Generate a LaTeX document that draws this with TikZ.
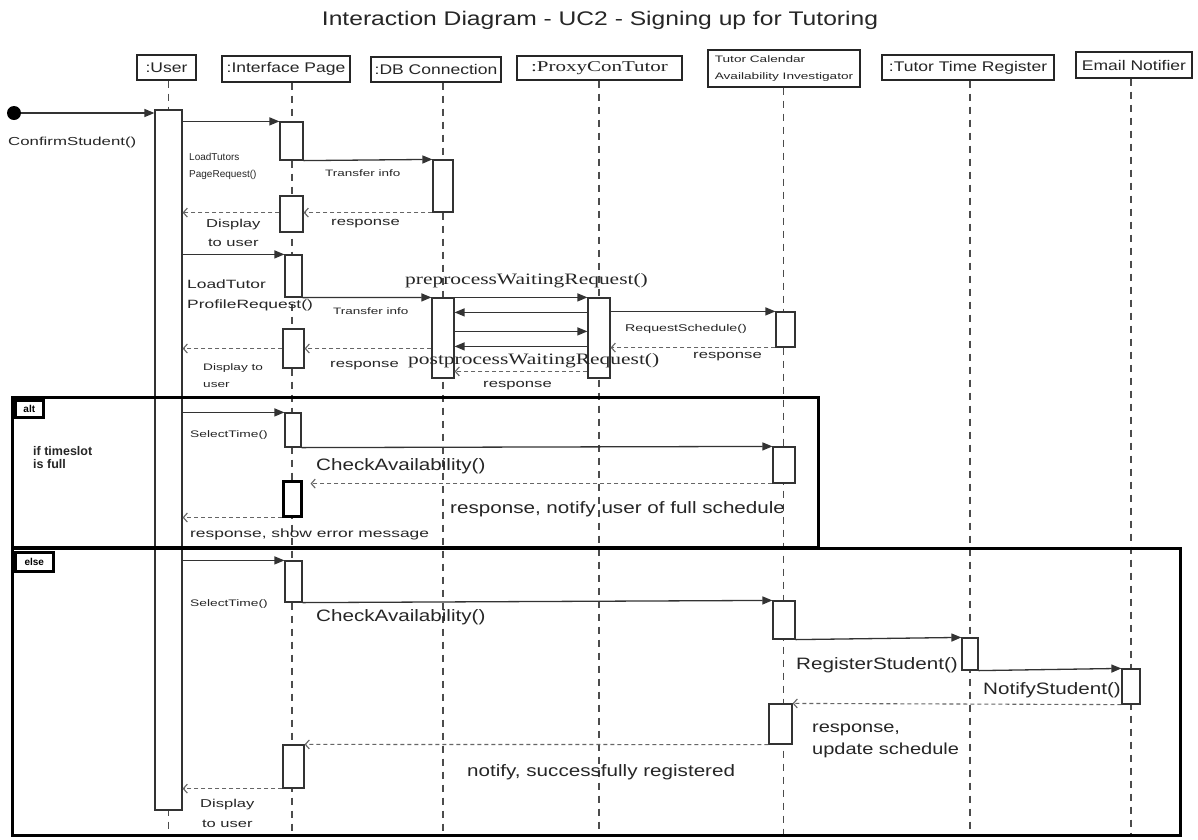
\documentclass[tikz,border=0pt]{standalone}
\usepackage{fontspec}
\setmainfont{Liberation Sans}
\usetikzlibrary{arrows.meta}
\newfontfamily\sn{Liberation Sans}
\newfontfamily\sw[FakeStretch=1.25]{Liberation Sans}
\newfontfamily\sww[FakeStretch=1.45]{Liberation Sans}
\newfontfamily\rw[FakeStretch=1.35]{Liberation Serif}
\newfontfamily\rww[FakeStretch=1.4]{Liberation Serif}
\begin{document}
\begin{tikzpicture}[x=1pt,y=-1pt,
  hdr/.style={draw=black!85, line width=1.4pt, inner sep=0pt, text=black!85,
    font=\sw\fontsize{14}{16}\selectfont},
  life/.style={draw=black!70, line width=1.3pt, dash pattern=on 7pt off 6pt},
  actbox/.style={draw=black!80, fill=white, line width=1.2pt, inner sep=0pt},
  msg/.style={draw=black!80, line width=1.3pt, -{Triangle[length=10pt,width=8pt]}},
  ret/.style={draw=black!60, line width=1.1pt, dash pattern=on 4pt off 3pt,
    -{Straight Barb[length=4pt,width=9pt]}},
  lbl/.style={anchor=west, inner sep=0pt, text=black!85},
  big/.style={lbl, font=\sw\fontsize{16.5}{20}\selectfont},
  small/.style={lbl, font=\sww\fontsize{11.5}{14}\selectfont},
  tag/.style={draw=black, line width=2.6pt, inner sep=1.5pt, anchor=north west,
    font=\sn\bfseries\fontsize{10}{12}\selectfont},
  framebox/.style={draw=black, line width=3pt}
]
\fill[white] (0,0) rectangle (1198,839);
\useasboundingbox (0,0) rectangle (1198,839);

% title
\node[font=\sw\fontsize{19.7}{23}\selectfont, text=black!85] (title) at (600,20) {Interaction Diagram - UC2 - Signing up for Tutoring};

% lifeline heads
\node[hdr, minimum width=59pt, minimum height=25pt] (hU) at (166.5,67.5) {:User};
\node[hdr, minimum width=128pt, minimum height=26pt] (hI) at (286,69) {:Interface Page};
\node[hdr, minimum width=130pt, minimum height=25pt] (hD) at (436,69.5) {:DB Connection};
\node[hdr, minimum width=165pt, minimum height=24pt, font=\rww\fontsize{15}{17}\selectfont] (hP) at (599.5,68) {:ProxyConTutor};
\node[hdr, minimum width=152pt, minimum height=37pt, align=left, font=\sww\fontsize{9.4}{17}\selectfont] (hT) at (784,68.5) {Tutor Calendar\\Availability Investigator};
\node[hdr, minimum width=172pt, minimum height=25pt] (hR) at (968,67.5) {:Tutor Time Register};
\node[hdr, minimum width=116pt, minimum height=26pt] (hE) at (1134,65) {Email Notifier};

% lifeline columns
\coordinate (xU) at (168.5,0);
\coordinate (xI) at (292,0);
\coordinate (xD) at (443,0);
\coordinate (xP) at (599,0);
\coordinate (xT) at (783.5,0);
\coordinate (xR) at (970,0);
\coordinate (xE) at (1131,0);
\coordinate (bot) at (0,836);

\draw[life] (xU |- hU.south) -- (xU |- bot);
\draw[life] (xI |- hI.south) -- (xI |- bot);
\draw[life] (xD |- hD.south) -- (xD |- bot);
\draw[life] (xP |- hP.south) -- (xP |- bot);
\draw[life] (xT |- hT.south) -- (xT |- bot);
\draw[life] (xR |- hR.south) -- (xR |- bot);
\draw[life] (xE |- hE.south) -- (xE |- bot);

% activation bars
\node[actbox, minimum width=27pt, minimum height=700pt] (uA) at (168.5,460) {};
\node[actbox, minimum width=23pt, minimum height=38pt] (iA1) at (291.5,141) {};
\node[actbox, minimum width=20pt, minimum height=52pt] (dA1) at (443,186) {};
\node[actbox, minimum width=23pt, minimum height=36pt] (iA2) at (291.5,214) {};
\node[actbox, minimum width=17pt, minimum height=42pt] (iA3) at (293.5,276) {};
\node[actbox, minimum width=22pt, minimum height=80pt] (dA2) at (443,338) {};
\node[actbox, minimum width=22pt, minimum height=80pt] (pA) at (599,338) {};
\node[actbox, minimum width=19pt, minimum height=35pt] (tA1) at (785.5,329.5) {};
\node[actbox, minimum width=21pt, minimum height=39pt] (iA4) at (293.5,348.5) {};
\node[actbox, minimum width=16pt, minimum height=34pt] (iA5) at (293,430) {};
\node[actbox, minimum width=22pt, minimum height=36pt] (tA2) at (784,465) {};
\node[actbox, minimum width=18pt, minimum height=35pt, line width=3pt, draw=black] (iA6) at (292,498.5) {};
\node[actbox, minimum width=17pt, minimum height=41pt] (iA7) at (293.5,581.5) {};
\node[actbox, minimum width=22pt, minimum height=38pt] (tA3) at (784,620) {};
\node[actbox, minimum width=16pt, minimum height=32pt] (rA) at (970,654) {};
\node[actbox, minimum width=18pt, minimum height=35pt] (eA) at (1131,686.5) {};
\node[actbox, minimum width=23pt, minimum height=40pt] (tA4) at (780.5,724) {};
\node[actbox, minimum width=21pt, minimum height=43pt] (iA8) at (293.5,766.5) {};

% start
\node[circle, fill=black, minimum size=14pt, inner sep=0pt] (start) at (14,113) {};
\draw[msg] (start) -- (uA.west |- start);
\node[lbl, font=\sww\fontsize{11.6}{14}\selectfont] (l0) at (8,142) {ConfirmStudent()};

% load tutors page
\draw[msg] (uA.east |- iA1.north) -- (iA1.north west);
\node[lbl, align=left, font=\sn\fontsize{10}{17}\selectfont] (l1) at (189,166.5) {LoadTutors\\PageRequest()};
\draw[msg] (iA1.south east) -- (dA1.north west);
\node[lbl, font=\sww\fontsize{9.3}{11}\selectfont] (l2) at (325,173) {Transfer info};
\draw[ret] (dA1.south west) -- (iA2.east |- dA1.south);
\node[small] (l3) at (331,224) {response};
\draw[ret] (iA2.west |- dA1.south) -- (uA.east |- dA1.south);
\node[lbl, align=center, font=\sww\fontsize{11.4}{19}\selectfont] (l4) at (206,232.5) {Display\\to user};

% load tutor profile
\draw[msg] (uA.east |- iA3.north) -- (iA3.north west);
\node[lbl, align=left, font=\sww\fontsize{12}{20}\selectfont] (l5) at (187,295) {LoadTutor\\ProfileRequest()};
\draw[msg] (iA3.south east) -- (dA2.north west);
\node[lbl, font=\sww\fontsize{9.3}{11}\selectfont] (l6) at (333,311) {Transfer info};
\draw[msg] (dA2.north east) -- (pA.north west);
\node[lbl, font=\rw\fontsize{15.9}{18}\selectfont] (l7) at (405,281) {preprocessWaitingRequest()};
\draw[msg] ([yshift=-15pt]pA.north west) -- ([yshift=-15pt]dA2.north east);
\draw[msg] ([yshift=-34pt]dA2.north east) -- ([yshift=-34pt]pA.north west);
\draw[msg] ([yshift=-49pt]pA.north west) -- ([yshift=-49pt]dA2.north east);
\draw[ret] ([yshift=-74pt]pA.north west) -- ([yshift=-74pt]dA2.north east);
\node[lbl, font=\rw\fontsize{15.9}{18}\selectfont] (l8) at (408,361) {postprocessWaitingRequest()};
\node[small] (l9) at (483,386) {response};
\draw[msg] (pA.east |- tA1.north) -- (tA1.north west);
\node[lbl, font=\sww\fontsize{9.8}{12}\selectfont] (l10) at (625,329) {RequestSchedule()};
\draw[ret] (tA1.south west) -- (pA.east |- tA1.south);
\node[small] (l11) at (693,357) {response};
\draw[ret] (dA2.west |- iA4.center) -- (iA4.east);
\node[small] (l12) at (330,366) {response};
\draw[ret] (iA4.west) -- (uA.east |- iA4.west);
\node[lbl, align=left, font=\sww\fontsize{9.4}{17}\selectfont] (l13) at (203,375.5) {Display to\\user};

% alt fragment
\draw[framebox] (12,397) rectangle (818,547);
\node[tag, minimum width=28pt, minimum height=17pt] (altTag) at (14,399) {alt};
\node[lbl, align=left, font=\sn\bfseries\fontsize{12.5}{13}\selectfont] (cond) at (33,457.5) {if timeslot\\is full};
\draw[msg] (uA.east |- iA5.north) -- (iA5.north west);
\node[lbl, font=\sww\fontsize{9.5}{12}\selectfont] (l14) at (190,435) {SelectTime()};
\draw[msg] (iA5.south east) -- (tA2.north west);
\node[big] (l15) at (316,466) {CheckAvailability()};
\draw[ret] (tA2.south west) -- ([xshift=8pt]iA6.east |- tA2.south);
\node[big] (l16) at (450,509) {response, notify user of full schedule};
\draw[ret] (iA6.south west) -- (uA.east |- iA6.south);
\node[lbl, font=\sww\fontsize{12}{14}\selectfont] (l17) at (190,534) {response, show error message};

% else fragment
\draw[framebox] (12,548) rectangle (1180,835);
\node[tag, minimum width=38pt, minimum height=19pt] (elseTag) at (14,551) {else};
\draw[msg] (uA.east |- iA7.north) -- (iA7.north west);
\node[lbl, font=\sww\fontsize{9.5}{12}\selectfont] (l18) at (190,604) {SelectTime()};
\draw[msg] (iA7.south east) -- (tA3.north west);
\node[big] (l19) at (316,617) {CheckAvailability()};
\draw[msg] (tA3.south east) -- (rA.north west);
\node[big] (l20) at (796,665) {RegisterStudent()};
\draw[msg] (rA.south east) -- (eA.north west);
\node[big] (l21) at (983,690) {NotifyStudent()};
\draw[ret] (eA.south west) -- (tA4.north east);
\node[big, align=left, font=\sw\fontsize{16}{22}\selectfont] (l22) at (812,741) {response,\\update schedule};
\draw[ret] (tA4.south west) -- (iA8.north east);
\node[big] (l23) at (467,772) {notify, successfully registered};
\draw[ret] (iA8.south west) -- (uA.east |- iA8.south);
\node[lbl, align=center, font=\sww\fontsize{11.4}{20}\selectfont] (l24) at (200,813) {Display\\to user};
\end{tikzpicture}
\end{document}
